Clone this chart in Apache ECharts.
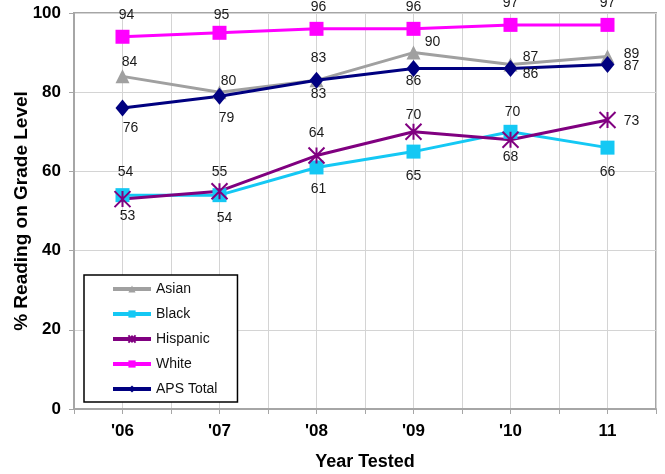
<!DOCTYPE html>
<html>
<head>
<meta charset="utf-8">
<style>
  html, body { margin: 0; padding: 0; background: #ffffff; }
  #chart { width: 665px; height: 474px; }
</style>
<script src="https://cdn.jsdelivr.net/npm/echarts@6/dist/echarts.min.js"></script>
</head>
<body>
<div id="chart"></div>
<script>
// School years tested
const years = ["'06", "'07", "'08", "'09", "'10", "11"];

// Percent of students reading on grade level, by group
const asian    = [84, 80, 83, 90, 87, 89];
const black    = [54, 54, 61, 65, 70, 66];
const hispanic = [53, 55, 64, 70, 68, 73];
const white    = [94, 95, 96, 96, 97, 97];
const apsTotal = [76, 79, 83, 86, 86, 87];

// Value-label nudges (pixels from each marker's centre) so labels do not collide
const labelNudge = {
  Asian:      [[7, -14], [9, -11], [2, -22], [19, -10], [20, -7], [24, -2]],
  Black:      [[3, -23], [5, 23], [2, 22], [0, 25], [2, -20], [0, 25]],
  Hispanic:   [[5, 17], [0, -19], [0, -22], [0, -17], [0, 17], [24, 1]],
  White:      [[4, -22], [2, -18], [2, -22], [0, -22], [0, -22], [0, -22]],
  'APS Total':[[8, 20], [7, 22], [2, 14], [0, 13], [20, 6], [24, 2]]
};

const FONT = "'Liberation Sans', Arial, sans-serif";
const GRID_GRAY = '#d4d4d4';
const AXIS_GRAY = '#a6a6a6';

function makeSeries(name, values, color, symbol, symbolSize, extraItemStyle) {
  const nudges = labelNudge[name];
  return {
    name: name,
    type: 'line',
    xAxisIndex: 0,
    yAxisIndex: 0,
    data: values.map((v, i) => ({ value: v, label: { offset: nudges[i] } })),
    symbol: symbol,
    symbolSize: symbolSize,
    showAllSymbol: true,
    lineStyle: { color: color, width: 3 },
    itemStyle: Object.assign({ color: color, borderWidth: 0, opacity: 1 }, extraItemStyle || {}),
    label: {
      show: true,
      position: 'inside',
      color: '#1a1a1a',
      fontFamily: FONT,
      fontSize: 14
    },
    emphasis: { disabled: true },
    z: 3
  };
}

const chart = echarts.init(document.getElementById('chart'), null, { renderer: 'canvas' });

chart.setOption({
  animation: false,
  backgroundColor: '#ffffff',
  textStyle: { fontFamily: FONT },
  grid: {
    left: 74, right: 9, top: 13, bottom: 65,
    outerBoundsMode: 'none',
    containLabel: false,
    show: true,
    borderColor: AXIS_GRAY,
    borderWidth: 2,
    backgroundColor: 'transparent'
  },
  legend: {
    orient: 'vertical',
    left: 84,
    top: 275,
    padding: [7, 20, 6, 27],
    itemGap: 11,
    itemWidth: 38,
    itemHeight: 9,
    lineStyle: { width: 4 },
    backgroundColor: '#ffffff',
    borderColor: '#000000',
    borderWidth: 1.5,
    borderRadius: 0,
    textStyle: { fontFamily: FONT, fontSize: 14, color: '#111111' },
    data: ['Asian', 'Black', 'Hispanic', 'White', 'APS Total'],
    z: 10
  },
  xAxis: [
    {
      type: 'category',
      position: 'bottom',
      data: years,
      boundaryGap: true,
      axisLine: { show: true, lineStyle: { color: AXIS_GRAY, width: 2 } },
      axisTick: { show: false },
      splitLine: { show: false },
      axisLabel: {
        color: '#000000',
        fontFamily: FONT,
        fontWeight: 'bold',
        fontSize: 17,
        margin: 14
      },
      name: 'Year Tested',
      nameLocation: 'middle',
      nameGap: 44,
      nameMoveOverlap: false,
      nameTextStyle: { color: '#000000', fontFamily: FONT, fontWeight: 'bold', fontSize: 18 }
    },
    {
      // half-year divisions: gridlines and ticks at every category centre and boundary
      type: 'value',
      position: 'bottom',
      min: 0,
      max: 12,
      interval: 1,
      axisLine: { show: false },
      axisLabel: { show: false },
      axisTick: { show: true, length: 5, lineStyle: { color: AXIS_GRAY, width: 1 } },
      splitLine: { show: true, lineStyle: { color: GRID_GRAY, width: 1 } }
    }
  ],
  yAxis: {
    type: 'value',
    min: 0,
    max: 100,
    interval: 20,
    axisLine: { show: true, lineStyle: { color: AXIS_GRAY, width: 2 } },
    axisTick: { show: true, length: 5, lineStyle: { color: AXIS_GRAY, width: 1 } },
    splitLine: { show: true, lineStyle: { color: GRID_GRAY, width: 1 } },
    axisLabel: {
      color: '#000000',
      fontFamily: FONT,
      fontWeight: 'bold',
      fontSize: 17,
      margin: 13
    },
    name: '% Reading on Grade Level',
    nameLocation: 'middle',
    nameRotate: 90,
    nameGap: 43,
    nameMoveOverlap: false,
    nameTextStyle: { color: '#000000', fontFamily: FONT, fontWeight: 'bold', fontSize: 19 }
  },
  series: [
    makeSeries('Asian', asian, '#a0a0a0', 'triangle', 14),
    makeSeries('Black', black, '#14c8f4', 'rect', 14),
    makeSeries('Hispanic', hispanic, '#800080',
      'path://M0,0L10,10M10,0L0,10M5,0L5,10', 16,
      { borderColor: '#800080', borderWidth: 2 }),
    makeSeries('White', white, '#ff00ff', 'rect', 14),
    makeSeries('APS Total', apsTotal, '#000080', 'diamond', [14, 17])
  ]
});
</script>
</body>
</html>
